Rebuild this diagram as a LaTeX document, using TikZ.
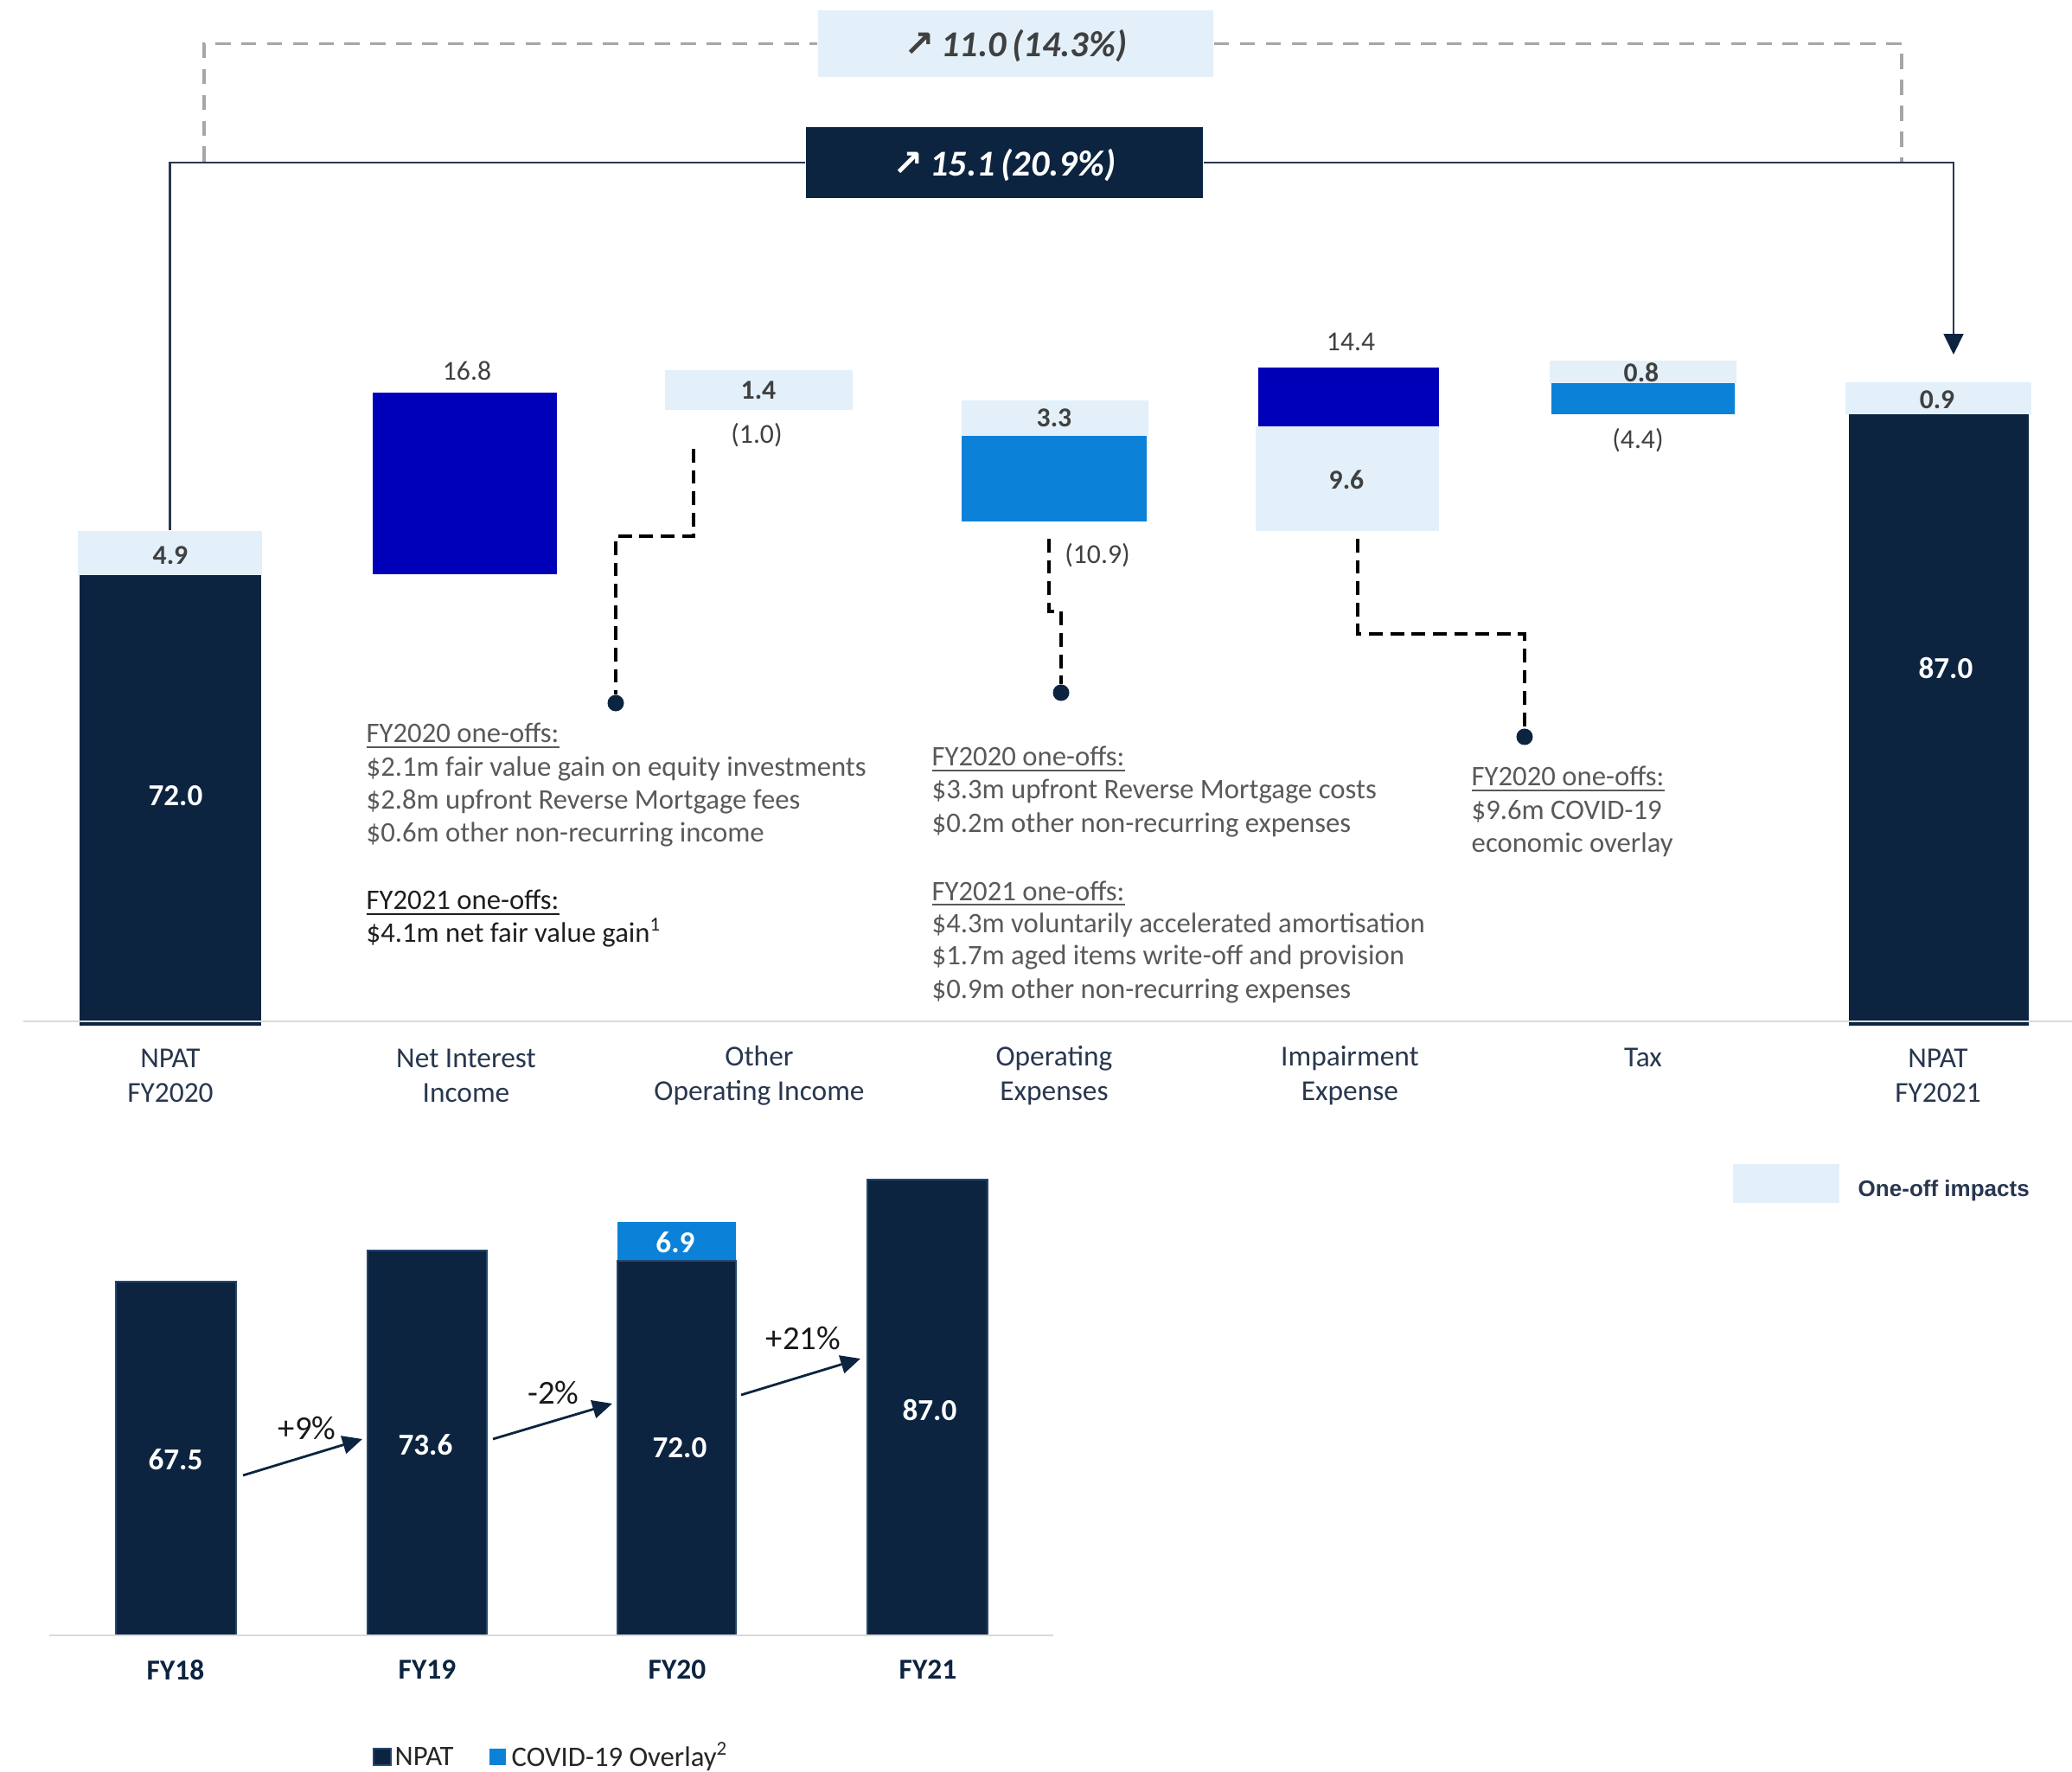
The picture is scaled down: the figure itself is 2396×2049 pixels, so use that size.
\documentclass[tikz,border=0pt]{standalone}
\usepackage{fontspec}
\setmainfont{Carlito}
\newfontfamily\dejavu{DejaVu Sans}
\newfontfamily\arialf{Liberation Sans}
\usetikzlibrary{arrows.meta,fit}
\definecolor{navy}{RGB}{12,36,64}
\definecolor{lightb}{RGB}{227,240,250}
\definecolor{royal}{RGB}{0,0,184}
\definecolor{midb}{RGB}{11,130,216}
\definecolor{txtgray}{RGB}{64,64,64}
\definecolor{notegray}{RGB}{89,89,89}
\definecolor{notedark}{RGB}{30,30,30}
\definecolor{catcol}{RGB}{40,55,78}
\definecolor{dashgray}{RGB}{166,166,166}
\definecolor{axisgray}{RGB}{217,217,217}
\definecolor{barline}{RGB}{35,70,110}
\begin{document}
\begin{tikzpicture}[x=0.01cm,y=-0.01cm,
  barbox/.style={inner sep=0pt, draw=none},
  val/.style={font=\fontsize{9}{11}\selectfont, text=txtgray, inner sep=0pt},
  valb/.style={font=\fontsize{9}{11}\selectfont\bfseries, text=txtgray, inner sep=0pt},
  inval/.style={font=\fontsize{10}{12}\selectfont\bfseries, text=white, inner sep=0pt},
  cat/.style={font=\fontsize{9.5}{11.4}\selectfont, text=catcol, align=center, inner sep=0pt},
  catb/.style={font=\fontsize{9.5}{11.4}\selectfont\bfseries, text=navy, inner sep=0pt},
  note/.style={font=\fontsize{9.3}{10.8}\selectfont, text=notegray, anchor=base west, inner sep=0pt},
  noted/.style={note, text=notedark},
  conn/.style={draw=catcol, line width=0.6pt},
  gdash/.style={draw=dashgray, line width=1.1pt, dash pattern=on 5pt off 3.5pt},
  kdash/.style={draw=black, line width=0.9pt, dash pattern=on 4.5pt off 2.5pt},
  dotn/.style={circle, fill=navy, inner sep=0pt, minimum size=0.19cm},
  growarr/.style={draw=navy, line width=0.8pt, -{Triangle[width=6pt,length=6.5pt]}},
  pct/.style={font=\fontsize{11}{13}\selectfont, text=black!90, inner sep=0pt},
  hbar/.style={inner sep=0pt, draw=barline, line width=0.5pt},
  totfont/.style={font=\fontsize{12}{14}\selectfont\bfseries\itshape},
]
\useasboundingbox (0,0) rectangle (2396,2049);

% ---------- waterfall bars ----------
\node[barbox, fill=lightb, fit={(90,614) (303,665)}] (n20one) {};
\node[barbox, fill=navy, fit={(92,665) (302,1186)}] (n20) {};
\node[barbox, fill=royal, fit={(431,454) (644,664)}] (nii) {};
\node[barbox, fill=lightb, fit={(769,428) (986,474)}] (ooi) {};
\node[barbox, fill=lightb, fit={(1112,463) (1328,504)}] (opxone) {};
\node[barbox, fill=midb, fit={(1112,504) (1326,603)}] (opx) {};
\node[barbox, fill=royal, fit={(1455,425) (1664,493)}] (imp) {};
\node[barbox, fill=lightb, fit={(1452,493) (1664,614)}] (impone) {};
\node[barbox, fill=lightb, fit={(1792,417) (2008,443)}] (taxone) {};
\node[barbox, fill=midb, fit={(1794,443) (2006,479)}] (tax) {};
\node[barbox, fill=lightb, fit={(2134,442) (2349,479)}] (n21one) {};
\node[barbox, fill=navy, fit={(2138,479) (2346,1186)}] (n21) {};

\draw[axisgray, line width=0.8pt] (27,1181) -- (2396,1181);

% values
\node[valb] (v49) at (197,642) {4.9};
\node[inval] (v720) at (203,920) {72.0};
\node[val] (v168) at (540,429) {16.8};
\node[valb] (v14) at (877,451) {1.4};
\node[val] (v10) at (875,503) {(1.0)};
\node[valb] (v33) at (1219,483) {3.3};
\node[val] (v109) at (1269,642) {(10.9)};
\node[val] (v144) at (1562,395) {14.4};
\node[valb] (v96) at (1557,555) {9.6};
\node[valb] (v08) at (1898,431) {0.8};
\node[val] (v44) at (1894,509) {(4.4)};
\node[valb] (v09) at (2240,462) {0.9};
\node[inval] (v870) at (2250,772) {87.0};

% category labels
\node[cat] (c1) at (197,1244) {NPAT\\FY2020};
\node[cat] (c2) at (539,1244) {Net Interest\\Income};
\node[cat] (c3) at (878,1244) {Other\\Operating Income};
\node[cat] (c4) at (1219,1244) {Operating\\Expenses};
\node[cat] (c5) at (1561,1244) {Impairment\\Expense};
\node[cat] (c6) at (1900,1223) {Tax};
\node[cat] (c7) at (2241,1244) {NPAT\\FY2021};

% ---------- totals at the top ----------
\node[fill=lightb, minimum width=4.57cm, minimum height=0.77cm, inner sep=0pt,
      totfont, text=txtgray] (tot1) at (1174.5,50.5)
      {\smash{\raisebox{-4.3pt}{{\dejavu\bfseries ↗}\,11.0\,(14.3\%)}}};
\node[fill=navy, minimum width=4.59cm, minimum height=0.82cm, inner sep=0pt,
      totfont, text=white] (tot2) at (1161.5,188)
      {\smash{\raisebox{-4.3pt}{{\dejavu\bfseries ↗}\,15.1\,(20.9\%)}}};

\coordinate (gL) at (236,187);
\coordinate (gR) at (2199,187);
\draw[gdash] (gL) |- (tot1.west);
\draw[gdash] (tot1.east) -| (gR);
\coordinate (arrtip) at (2259,410);
\draw[conn] (n20one.north) |- (tot2.west);
\draw[conn, -{Triangle[width=6.5pt,length=6.8pt,color=navy]}] (tot2.east) -| (arrtip);

% ---------- dashed callouts ----------
\coordinate (s1) at (802,519);
\node[dotn] (d1) at (712,813) {};
\draw[kdash] (s1) -- ++(0,101) -| (d1);
\coordinate (s2) at (1213,623);
\node[dotn] (d2) at (1227,801) {};
\draw[kdash] (s2) -- ++(0,84) -| (d2);
\coordinate (s3) at (1570,623);
\node[dotn] (d3) at (1763,852) {};
\draw[kdash] (s3) -- ++(0,110) -| (d3);

% notes block 1
\node[note] (b1a) at (423,859) {\underline{FY2020 one-offs:}};
\node[note] (b1b) at (423,898) {\$2.1m fair value gain on equity investments};
\node[note] (b1c) at (423,936) {\$2.8m upfront Reverse Mortgage fees};
\node[note] (b1d) at (423,974) {\$0.6m other non-recurring income};
\node[noted] (b1e) at (423,1052) {\underline{FY2021 one-offs:}};
\node[noted] (b1f) at (423,1090) {\$4.1m net fair value gain\textsuperscript{1}};
% notes block 2
\node[note] (b2a) at (1077,886) {\underline{FY2020 one-offs:}};
\node[note] (b2b) at (1077,924) {\$3.3m upfront Reverse Mortgage costs};
\node[note] (b2c) at (1077,962) {\$0.2m other non-recurring expenses};
\node[note] (b2d) at (1077,1041) {\underline{FY2021 one-offs:}};
\node[note] (b2e) at (1077,1078) {\$4.3m voluntarily accelerated amortisation};
\node[note] (b2f) at (1077,1116) {\$1.7m aged items write-off and provision};
\node[note] (b2g) at (1077,1154) {\$0.9m other non-recurring expenses};
% notes block 3
\node[note] (b3a) at (1701,909) {\underline{FY2020 one-offs:}};
\node[note] (b3b) at (1701,948) {\$9.6m COVID-19};
\node[note] (b3c) at (1701,986) {economic overlay};

% legend right
\node[barbox, fill=lightb, fit={(2004,1346) (2127,1391)}] (lgone) {};
\node[anchor=west, inner sep=0pt, font=\arialf\bfseries\fontsize{7.4}{9}\selectfont, text=catcol] (lgonet) at (2148,1377) {One-off impacts};

% ---------- bottom chart ----------
\node[hbar, fill=navy, fit={(134,1482) (273,1891)}] (fy18) {};
\node[hbar, fill=navy, fit={(425,1446) (563,1891)}] (fy19) {};
\node[barbox, fill=midb, fit={(714,1413) (851,1458)}] (fy20c) {};
\node[hbar, fill=navy, fit={(714,1458) (851,1891)}] (fy20) {};
\node[hbar, fill=navy, fit={(1003,1364) (1142,1891)}] (fy21) {};
\draw[axisgray, line width=0.8pt] (57,1891) -- (1218,1891);

\node[inval] (l18) at (203,1688) {67.5};
\node[inval] (l19) at (492,1671) {73.6};
\node[inval] (l20) at (786,1674) {72.0};
\node[inval] (l20c) at (781,1437) {6.9};
\node[inval] (l21) at (1075,1630) {87.0};

\node[catb] (x18) at (203,1931) {FY18};
\node[catb] (x19) at (494,1931) {FY19};
\node[catb] (x20) at (783,1931) {FY20};
\node[catb] (x21) at (1073,1931) {FY21};

\coordinate (a1s) at (281,1706); \coordinate (a1e) at (419,1664);
\coordinate (a2s) at (570,1664); \coordinate (a2e) at (708,1623);
\coordinate (a3s) at (857,1613); \coordinate (a3e) at (995,1571);
\draw[growarr] (a1s) -- (a1e);
\draw[growarr] (a2s) -- (a2e);
\draw[growarr] (a3s) -- (a3e);
\node[pct] (p1) at (355,1651) {+9\%};
\node[pct] (p2) at (640,1610) {-2\%};
\node[pct] (p3) at (929,1547) {+21\%};

% legend bottom
\node[hbar, fill=navy, fit={(432,2022) (452,2041)}] (lgn) {};
\node[anchor=west, inner sep=0pt, font=\fontsize{9.3}{11}\selectfont, text=black!85] (lgnt) at (456,2031) {NPAT};
\node[barbox, fill=midb, fit={(566,2022) (585,2041)}] (lgc) {};
\node[anchor=west, inner sep=0pt, font=\fontsize{9.3}{11}\selectfont, text=black!85] (lgct) at (591,2031) {COVID-19 Overlay\textsuperscript{2}};
\end{tikzpicture}
\end{document}
